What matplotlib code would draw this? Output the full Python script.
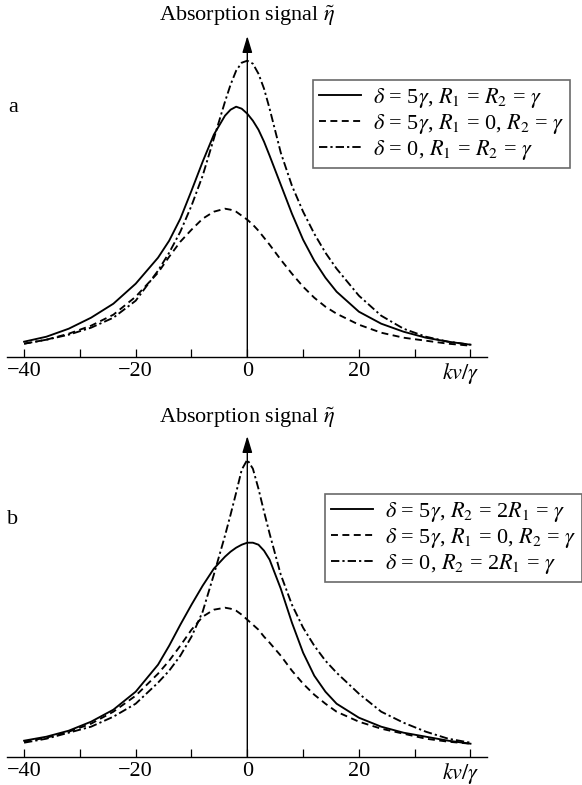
import matplotlib
matplotlib.use("Agg")
import matplotlib.pyplot as plt

plt.rcParams['font.family'] = ['Liberation Serif', 'DejaVu Serif']
plt.rcParams['mathtext.fontset'] = 'stix'
plt.rcParams['lines.scale_dashes'] = False

# ---- data (kv/gamma grid and absorption signal, arbitrary units) ----
kv = [-40, -36, -32, -28, -24, -20, -16, -14, -12, -10, -8, -6, -4, -3, -2, -1,
      0, 1, 2, 3, 4, 6, 8, 10, 12, 14, 16, 20, 24, 28, 32, 36, 40]

a_solid = [0.15, 0.20, 0.28, 0.39, 0.53, 0.73, 0.99, 1.16, 1.38, 1.66, 1.95, 2.22, 2.41, 2.47,
           2.50, 2.48, 2.43, 2.36, 2.27, 2.15, 2.01, 1.72, 1.43, 1.17, 0.96, 0.79, 0.65,
           0.45, 0.33, 0.25, 0.19, 0.15, 0.12]
a_dashed = [0.13, 0.17, 0.23, 0.31, 0.42, 0.60, 0.84, 1.00, 1.15, 1.27, 1.38, 1.45, 1.48, 1.47,
            1.45, 1.41, 1.37, 1.32, 1.26, 1.19, 1.12, 0.97, 0.83, 0.70, 0.59, 0.50, 0.43,
            0.32, 0.24, 0.19, 0.16, 0.13, 0.11]
a_dashdot = [0.13, 0.17, 0.22, 0.29, 0.39, 0.56, 0.86, 1.04, 1.25, 1.51, 1.81, 2.18, 2.55, 2.72,
             2.86, 2.94, 2.96, 2.93, 2.83, 2.68, 2.48, 2.04, 1.71, 1.45, 1.23, 1.04, 0.88,
             0.61, 0.41, 0.28, 0.20, 0.15, 0.12]

b_solid = [0.16, 0.20, 0.26, 0.35, 0.47, 0.65, 0.92, 1.11, 1.32, 1.52, 1.71, 1.88, 2.00, 2.05,
           2.09, 2.12, 2.14, 2.14, 2.12, 2.06, 1.97, 1.68, 1.34, 1.04, 0.81, 0.65, 0.53,
           0.39, 0.30, 0.24, 0.20, 0.16, 0.13]
b_dashed = [0.15, 0.19, 0.25, 0.33, 0.45, 0.61, 0.83, 0.96, 1.11, 1.27, 1.40, 1.47, 1.49, 1.48,
            1.46, 1.42, 1.37, 1.32, 1.27, 1.20, 1.14, 1.01, 0.86, 0.73, 0.62, 0.53, 0.45,
            0.35, 0.28, 0.23, 0.18, 0.15, 0.13]
b_dashdot = [0.14, 0.18, 0.24, 0.30, 0.40, 0.53, 0.74, 0.86, 1.01, 1.20, 1.45, 1.82, 2.21, 2.42,
             2.64, 2.87, 2.97, 2.88, 2.68, 2.45, 2.23, 1.82, 1.52, 1.29, 1.11, 0.96, 0.84,
             0.63, 0.45, 0.34, 0.25, 0.18, 0.14]

labels_a = [r'$\delta$ = 5$\gamma$, $R_1$ = $R_2$ = $\gamma$',
            r'$\delta$ = 5$\gamma$, $R_1$ = 0, $R_2$ = $\gamma$',
            r'$\delta$ = 0, $R_1$ = $R_2$ = $\gamma$']
labels_b = [r'$\delta$ = 5$\gamma$, $R_2$ = 2$R_1$ = $\gamma$',
            r'$\delta$ = 5$\gamma$, $R_1$ = 0, $R_2$ = $\gamma$',
            r'$\delta$ = 0, $R_2$ = 2$R_1$ = $\gamma$']

xticks = [-40, -30, -20, -10, 0, 10, 20, 30, 40]
xticklabels = ['\u221240', '', '\u221220', '', '0', '', '20', '', '']
panel_names = ['a', 'b']
title = 'Absorption signal ' + r'$\tilde{\eta}$'

# ---- figure ----
W, H = 582, 785
fig = plt.figure(figsize=(W / 100, H / 100), dpi=100)

styles = [dict(ls='-'), dict(ls=(0, (5.0, 3.2))), dict(ls=(0, (6.0, 2.2, 1.6, 2.2)))]
FS = 16


def fx(px):
    return px / W


def fy(py):
    return 1 - py / H


panels = [
    dict(series=[a_solid, a_dashed, a_dashdot], labels=labels_a, axis_y=356.7, top_y=36,
         leg=(313, 80), name_y=107, title_y=16),
    dict(series=[b_solid, b_dashed, b_dashdot], labels=labels_b, axis_y=756.7, top_y=436,
         leg=(325, 494), name_y=520, title_y=418),
]

x_left_px, x_right_px = 7, 487
x0_px, px_per_unit = 247.3, 5.58
xlim = ((x_left_px - x0_px) / px_per_unit, (x_right_px - x0_px) / px_per_unit)

for p, name in zip(panels, panel_names):
    ax = fig.add_axes([fx(x_left_px), fy(p['axis_y']), fx(x_right_px - x_left_px),
                       (p['axis_y'] - p['top_y']) / H])
    ytop = (p['axis_y'] - p['top_y']) / 100.0
    ax.set_xlim(*xlim)
    ax.set_ylim(0, ytop)
    for s in ['top', 'left', 'right']:
        ax.spines[s].set_visible(False)
    ax.spines['bottom'].set_linewidth(1.0)
    ax.set_yticks([])
    ax.set_xticks(xticks)
    ax.set_xticklabels(xticklabels)
    ax.tick_params(axis='x', direction='in', length=5.5, width=0.9, pad=4, labelsize=FS)
    ax.patch.set_alpha(0)

    for ys, st, lab in zip(p['series'], styles, p['labels']):
        ax.plot(kv, ys, color='black', lw=1.35, label=lab, clip_on=False, **st)

    ax.annotate('', xy=(0, ytop), xytext=(0, 0),
                arrowprops=dict(arrowstyle='-|>,head_length=1.0,head_width=0.3',
                                lw=1.0, color='black', shrinkA=0, shrinkB=0),
                annotation_clip=False)

    leg = ax.legend(loc='upper left', bbox_to_anchor=(fx(p['leg'][0]), fy(p['leg'][1])),
                    bbox_transform=fig.transFigure, borderaxespad=0, fontsize=FS,
                    frameon=True, fancybox=False, handlelength=1.9, handletextpad=0.55,
                    labelspacing=0.1, borderpad=0.25)
    leg.get_frame().set_edgecolor('#444444')
    leg.get_frame().set_linewidth(1.2)

    fig.text(fx(13), fy(p['name_y']), name, fontsize=FS, ha='center', va='center')
    fig.text(fx(247), fy(p['title_y']), title, fontsize=FS, ha='center', va='center')
    fig.text(fx(461), fy(p['axis_y'] + 17), r'$kv/\gamma$', fontsize=FS, ha='center',
             va='center')

fig.savefig('out.png', dpi=100)
